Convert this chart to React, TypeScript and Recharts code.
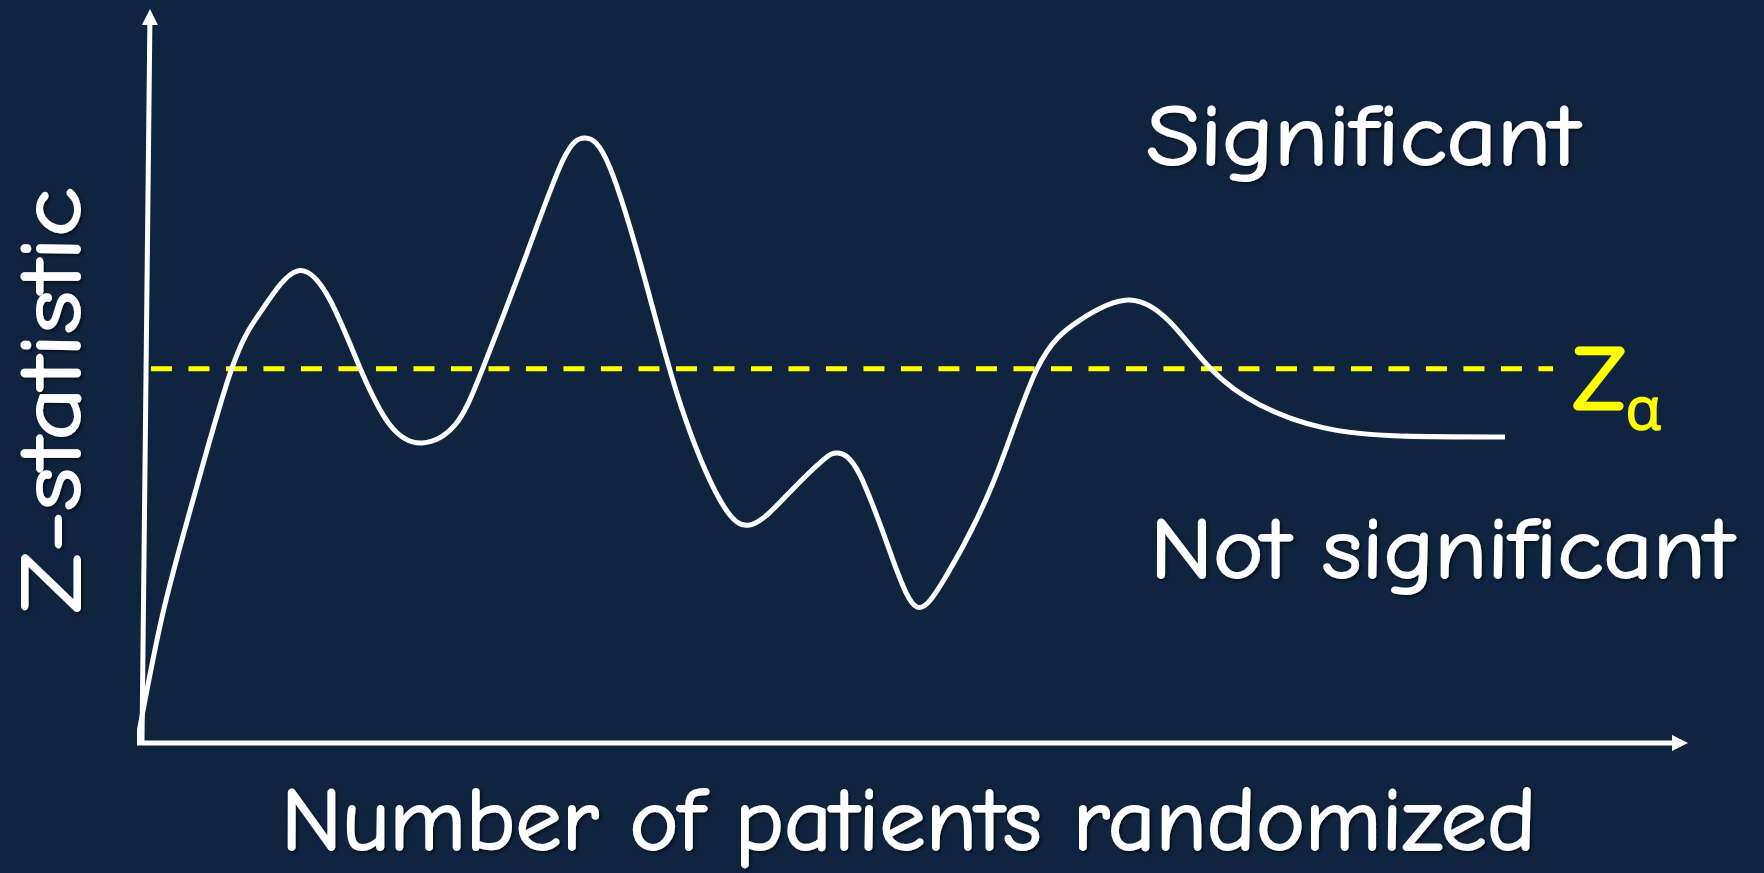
import React from 'react';
import { LineChart, Line, XAxis, YAxis, ReferenceLine, Customized } from 'recharts';

// Number of patients randomized (arbitrary units, 0..1000)
const patientsRandomized = [
  0, 16.12, 36.11, 61.25, 80.59, 103.16, 124.44, 143.78, 163.12, 183.75, 205.03, 223.08,
  251.45, 274.66, 288.85, 304.97, 328.82, 350.1, 375.89, 397.16, 421.02, 442.3, 451.97,
  466.15, 487.43, 502.9, 520.95, 551.9, 580.27, 607.99, 638.94, 666.02, 692.46, 724.05,
  765.31, 814.31, 882.01,
];
// Z-statistic at each point
const zStatistic = [
  0, 0.687, 1.324, 2.044, 2.36, 2.572, 2.414, 2.044, 1.733, 1.635, 1.733, 2.044,
  2.67, 3.177, 3.297, 3.134, 2.485, 1.853, 1.324, 1.193, 1.368, 1.542, 1.58,
  1.46, 0.997, 0.741, 0.899, 1.417, 2.038, 2.305, 2.414, 2.294, 2.038, 1.842,
  1.717, 1.673, 1.668,
];
const zAlpha = 2.04;
const xDomain: [number, number] = [0, 1000];
const yDomain: [number, number] = [0, 4];

const xAxisLabel = 'Number of patients randomized';
const yAxisLabel = 'Z-statistic';
const upperRegionLabel = 'Significant';
const lowerRegionLabel = 'Not significant';
const thresholdLabel = 'Z';
const thresholdSubscript = 'α';

const data = patientsRandomized.map((n, i) => ({ n, z: zStatistic[i] }));

const W = 1764;
const H = 873;
const BG = '#11243F';
const FONT = '"Comic Sans MS", "Comic Neue", "Open Sans", sans-serif';

const ArrowLine = (props: any) => {
  const x1 = Number(props.x1), y1 = Number(props.y1), x2 = Number(props.x2), y2 = Number(props.y2);
  const dx = x2 - x1, dy = y2 - y1;
  const len = Math.hypot(dx, dy) || 1;
  const ux = dx / len, uy = dy / len;
  const head = 16, half = 8;
  const bx = x2 - ux * head, by = y2 - uy * head;
  const px = -uy, py = ux;
  return (
    <g>
      <line x1={x1} y1={y1} x2={bx + ux * 2} y2={by + uy * 2} stroke="#ffffff" strokeWidth={5} />
      <polygon
        points={`${x2},${y2} ${bx + px * half},${by + py * half} ${bx - px * half},${by - py * half}`}
        fill="#ffffff"
      />
    </g>
  );
};

const ThresholdLabel = (props: any) => {
  const vb = props.viewBox || {};
  const x = (vb.x || 0) + (vb.width || 0) + 20;
  const y = (vb.y || 0) + 40;
  return (
    <text
      x={x}
      y={y}
      fill="#FFFF00"
      stroke="#FFFF00"
      strokeWidth={3}
      strokeLinejoin="round"
      fontFamily={FONT}
      fontSize={90}
    >
      {thresholdLabel}
      <tspan fontSize={58} dy={20} strokeWidth={1.5}>{thresholdSubscript}</tspan>
    </text>
  );
};

const TextLayer = () => (
  <g
    fill="#ffffff"
    stroke="#ffffff"
    strokeWidth={1.8}
    strokeLinejoin="round"
    fontFamily={FONT}
    filter="url(#txtShadow)"
  >
    <defs>
      <filter id="txtShadow" x="-10%" y="-20%" width="120%" height="150%">
        <feDropShadow dx="2" dy="2" stdDeviation="1.5" floodColor="#000000" floodOpacity="0.55" />
      </filter>
    </defs>
    <text x={1146} y={165} fontSize={87} textLength={433} lengthAdjust="spacingAndGlyphs">
      {upperRegionLabel}
    </text>
    <text x={1150} y={578} fontSize={87} textLength={583} lengthAdjust="spacingAndGlyphs">
      {lowerRegionLabel}
    </text>
    <text x={281} y={850} fontSize={88} textLength={1255} lengthAdjust="spacingAndGlyphs">
      {xAxisLabel}
    </text>
    <text
      transform="translate(80,613) rotate(-90)"
      x={0}
      y={0}
      fontSize={87}
      textLength={426}
      lengthAdjust="spacingAndGlyphs"
    >
      {yAxisLabel}
    </text>
  </g>
);

export default function App() {
  return (
    <div style={{ position: 'absolute', left: 0, top: 0, width: W, height: H, background: BG }}>
      <LineChart
        width={W}
        height={H}
        data={data}
        margin={{ top: 9, right: 76, bottom: 130, left: 137 }}
      >
        <XAxis dataKey="n" type="number" domain={xDomain} hide height={0} allowDataOverflow />
        <YAxis type="number" domain={yDomain} hide width={0} allowDataOverflow />
        <ReferenceLine
          segment={[{ x: 3.2, y: 0 }, { x: 8.4, y: 4 }]}
          ifOverflow="visible"
          shape={ArrowLine}
        />
        <ReferenceLine
          segment={[{ x: 0, y: 0 }, { x: 1000, y: 0 }]}
          ifOverflow="visible"
          shape={ArrowLine}
        />
        <ReferenceLine
          segment={[{ x: 9, y: zAlpha }, { x: 913, y: zAlpha }]}
          ifOverflow="visible"
          stroke="#FFFF00"
          strokeWidth={5}
          strokeDasharray="21 16.5"
          label={<ThresholdLabel />}
        />
        <Line
          dataKey="z"
          type="natural"
          stroke="#ffffff"
          strokeWidth={5}
          strokeLinejoin="round"
          dot={false}
          isAnimationActive={false}
        />
        <Customized component={TextLayer} />
      </LineChart>
    </div>
  );
}
